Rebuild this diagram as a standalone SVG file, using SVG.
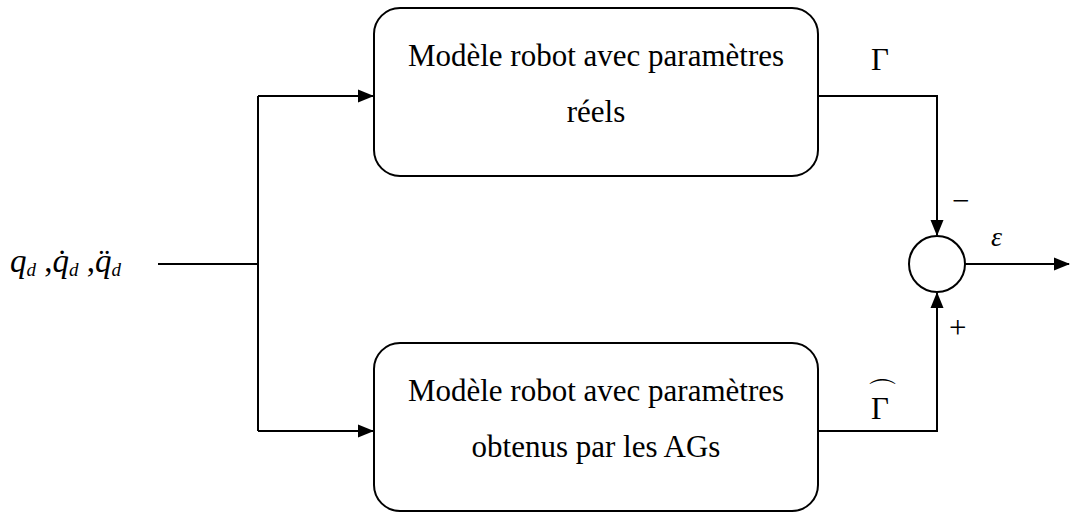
<svg xmlns="http://www.w3.org/2000/svg" width="1070" height="514" viewBox="0 0 1070 514">
<style>
.box{fill:#fff;stroke:#000;stroke-width:2}
.ln{fill:none;stroke:#000;stroke-width:2}
.t{font-family:"Liberation Serif",serif;font-size:31px;fill:#000}
.i{font-family:"Liberation Serif",serif;font-style:italic;fill:#000}
</style>
<defs>
<marker id="ah2" markerWidth="16" markerHeight="16" refX="15" refY="8" orient="auto" markerUnits="userSpaceOnUse" viewBox="0 0 16 16">
<path d="M0,1.5 L16,8 L0,14.5 z" fill="#000"/>
</marker>
</defs>
<g id="connectors">
<path class="ln" d="M158,264 H258"/>
<path class="ln" d="M258,96 V431"/>
<path class="ln" d="M258,96 H373" marker-end="url(#ah2)"/>
<path class="ln" d="M258,431 H373" marker-end="url(#ah2)"/>
<path class="ln" d="M818,96 H937 V235" marker-end="url(#ah2)"/>
<path class="ln" d="M818,431 H937 V293" marker-end="url(#ah2)"/>
<path class="ln" d="M965,264 H1069" marker-end="url(#ah2)"/>
</g>
<g id="input">
<text class="i" x="10" y="272" font-size="33">q<tspan font-size="19" dy="4">d</tspan><tspan dy="-4" font-style="normal"> ,</tspan>q̇<tspan font-size="19" dy="4">d</tspan><tspan dy="-4" font-style="normal"> ,</tspan>q̈<tspan font-size="19" dy="4">d</tspan></text>
</g>
<g id="top">
<rect class="box" x="374" y="8" width="444" height="168" rx="26"/>
<text class="t" x="596" y="66" text-anchor="middle">Modèle robot avec paramètres</text>
<text class="t" x="596" y="122" text-anchor="middle">réels</text>
</g>
<g id="bottom">
<rect class="box" x="374" y="343" width="444" height="168" rx="26"/>
<text class="t" x="596" y="401" text-anchor="middle">Modèle robot avec paramètres</text>
<text class="t" x="596" y="457" text-anchor="middle">obtenus par les AGs</text>
</g>
<g id="sum">
<circle class="box" cx="937" cy="264" r="28"/>
</g>
<g id="labels">
<text class="t" x="871" y="70">Γ</text>
<text class="t" x="952" y="211" font-size="26">−</text>
<text class="i" x="991" y="246" font-size="28">ε</text>
<text class="t" x="949" y="338" font-size="26">+</text>
<text class="t" x="871" y="419">Γ</text>
<text class="t" x="882" y="404" font-size="20" text-anchor="middle">⌒</text>
</g>
</svg>
